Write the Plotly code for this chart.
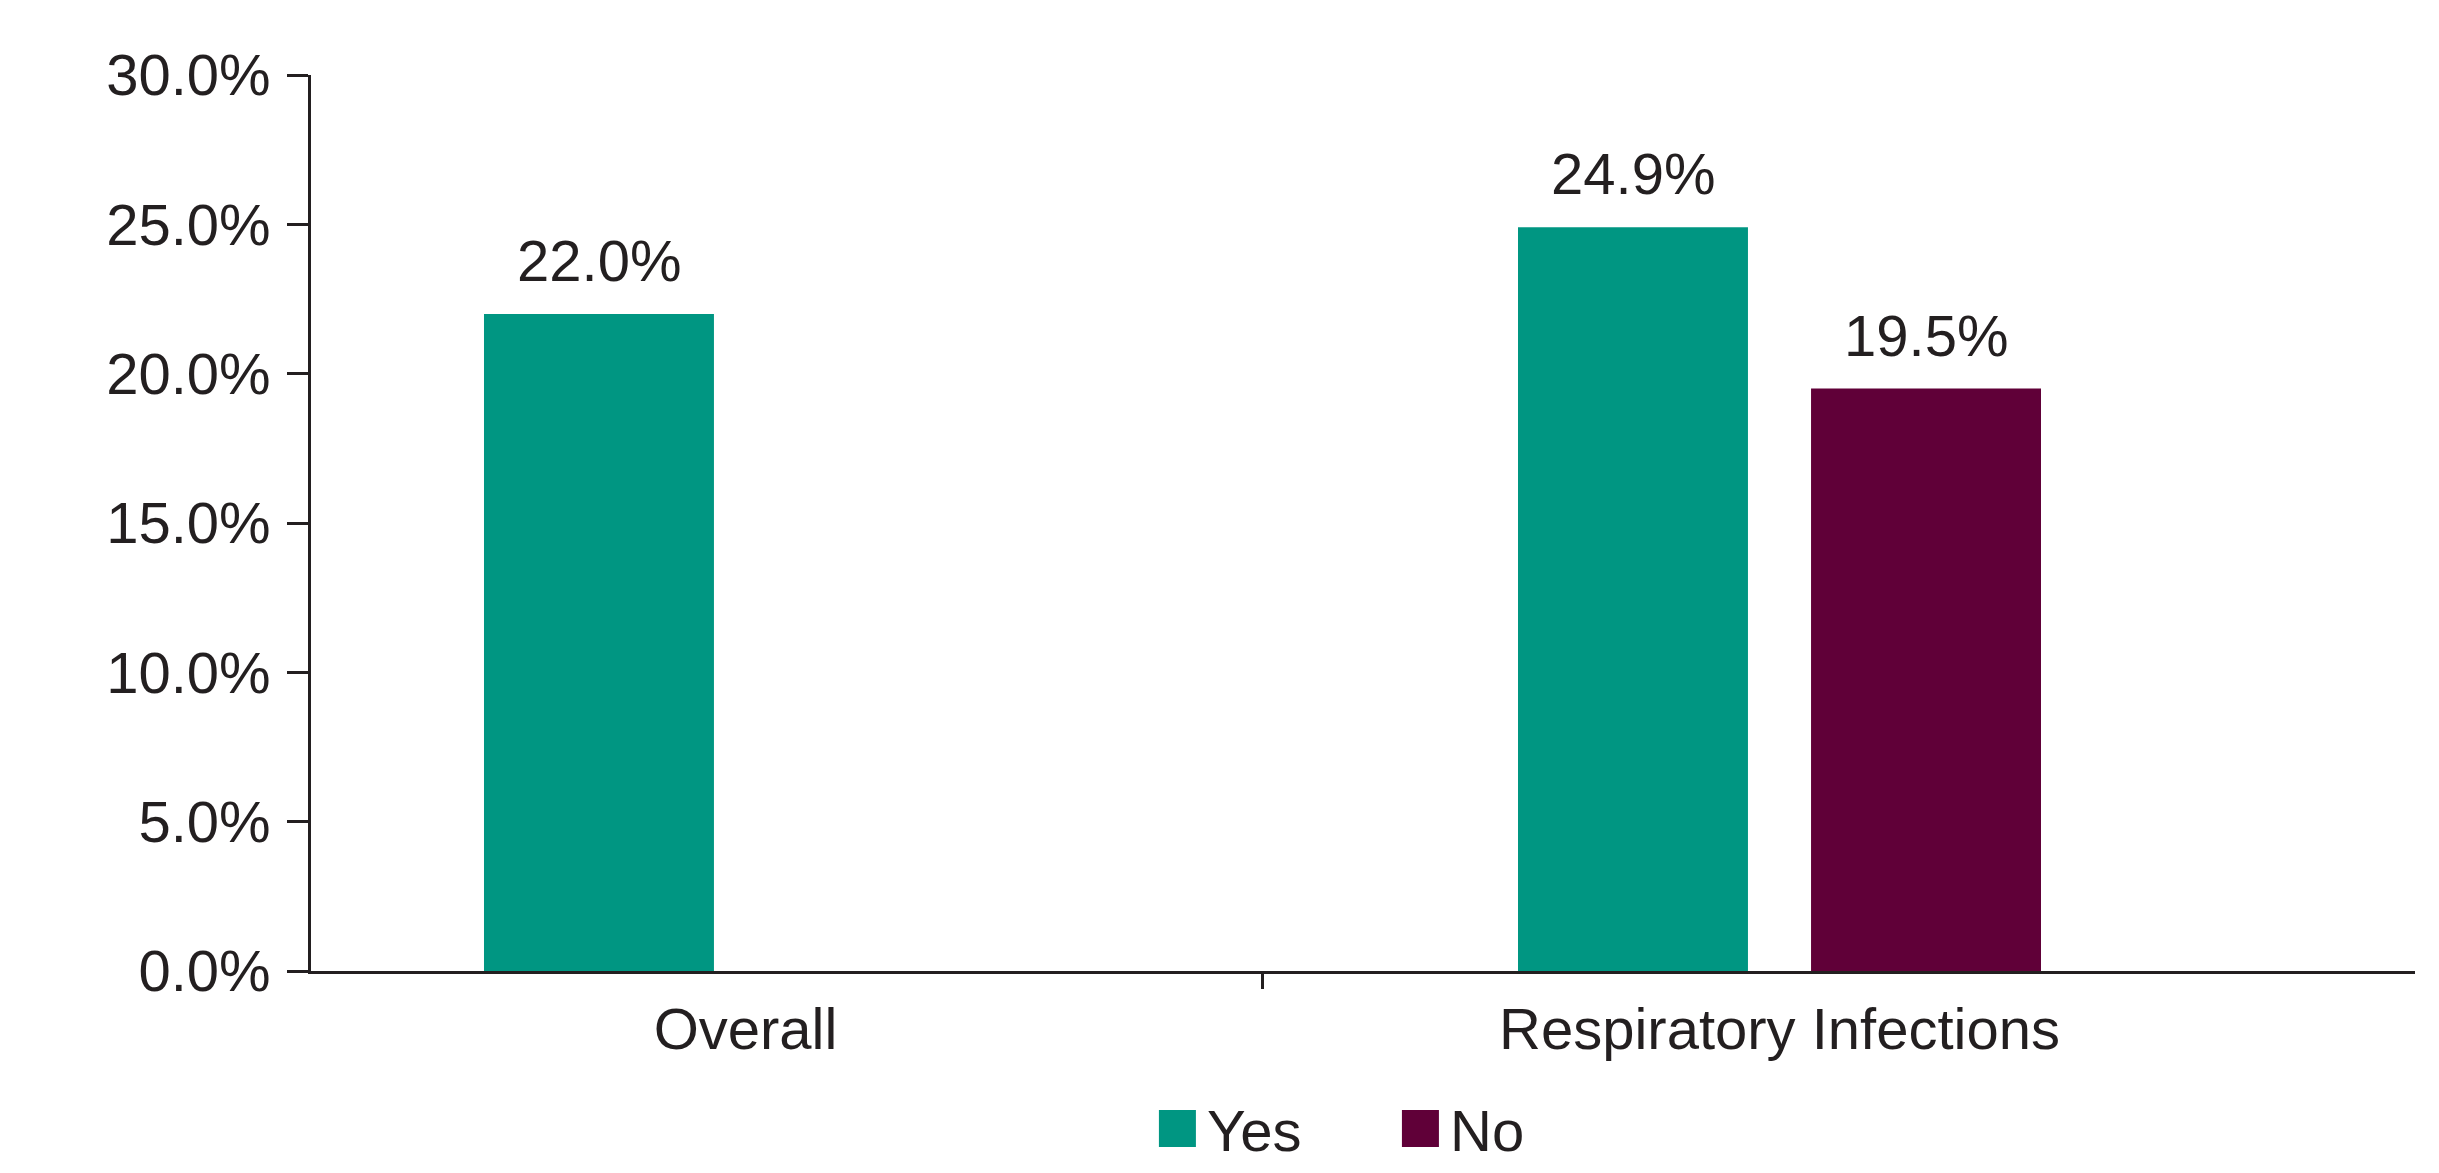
import plotly.graph_objects as go

# ---- data ----
categories = ["Overall", "Respiratory Infections"]
yes_values = [22.0, 24.9]
no_values = [None, 19.5]
series_names = ["Yes", "No"]
y_ticks = [0, 5, 10, 15, 20, 25, 30]
y_tick_labels = [f"{v:.1f}%" for v in y_ticks]

# ---- style ----
TEAL = "#009682"
MAROON = "#600038"
TXT = "#231f20"
FONT = "Liberation Sans, Arial, Helvetica, sans-serif"
FS = 58

cat_pos = list(range(len(categories)))
bar_w = 0.2224          # bar width in category units
half_slot = 0.1417      # centre offset of each bar in a group

fig = go.Figure()
fig.add_trace(go.Bar(
    x=cat_pos, y=yes_values, name=series_names[0],
    width=bar_w, offset=-half_slot - bar_w / 2,
    marker=dict(color=TEAL, line=dict(width=0)), showlegend=False,
))
fig.add_trace(go.Bar(
    x=cat_pos, y=no_values, name=series_names[1],
    width=bar_w, offset=half_slot - bar_w / 2,
    marker=dict(color=MAROON, line=dict(width=0)), showlegend=False,
))

# value labels above bars
for vals, off in ((yes_values, -half_slot), (no_values, half_slot)):
    for xi, v in zip(cat_pos, vals):
        if v is None:
            continue
        fig.add_annotation(
            x=xi + off, y=v, xref="x", yref="y",
            text=f"{v:.1f}%", showarrow=False,
            yanchor="bottom", yshift=19,
            font=dict(family=FONT, size=FS, color=TXT),
        )

# manual legend (large square swatches)
PH = 896.0   # plot height in px
PW = 2104.0  # plot width in px
def py(px_y):
    return (971.0 - px_y) / PH

legend_items = [(series_names[0], TEAL, 0.4030), (series_names[1], MAROON, 0.5185)]
lg_top, lg_bot = 1110, 1147
for name, col, x0 in legend_items:
    fig.add_shape(type="rect", xref="paper", yref="paper",
                  x0=x0, x1=x0 + 37 / PW, y0=py(lg_top), y1=py(lg_bot),
                  fillcolor=col, line=dict(width=0))
    fig.add_annotation(xref="paper", yref="paper",
                       x=x0 + 46 / PW, y=py((lg_top + lg_bot) / 2 + 2),
                       xanchor="left", yanchor="middle",
                       text=name, showarrow=False,
                       font=dict(family=FONT, size=FS, color=TXT))

fig.update_layout(
    width=2439, height=1173,
    margin=dict(l=311, r=24, t=75, b=202),
    paper_bgcolor="white", plot_bgcolor="white",
    barmode="overlay",
    font=dict(family=FONT, size=FS, color=TXT),
)
fig.update_xaxes(
    range=[-0.4202, 1.6146],
    tickvals=cat_pos, ticktext=categories,
    ticks="outside", ticklen=5, tickcolor="rgba(0,0,0,0)",
    tickfont=dict(family=FONT, size=FS, color=TXT),
    showline=True, linecolor=TXT, linewidth=3,
    showgrid=False, zeroline=False,
    minor=dict(tickvals=[0.5], ticks="outside", ticklen=15, tickwidth=3,
               tickcolor=TXT, showgrid=False),
)
fig.update_yaxes(
    range=[0, 30], tickmode="array", tickvals=y_ticks, ticktext=y_tick_labels,
    ticks="outside", ticklen=21, tickwidth=2.5, tickcolor=TXT,
    ticklabelstandoff=5,
    tickfont=dict(family=FONT, size=FS, color=TXT),
    showline=True, linecolor=TXT, linewidth=2.5,
    showgrid=False, zeroline=False,
)

fig.write_html("out.html")
